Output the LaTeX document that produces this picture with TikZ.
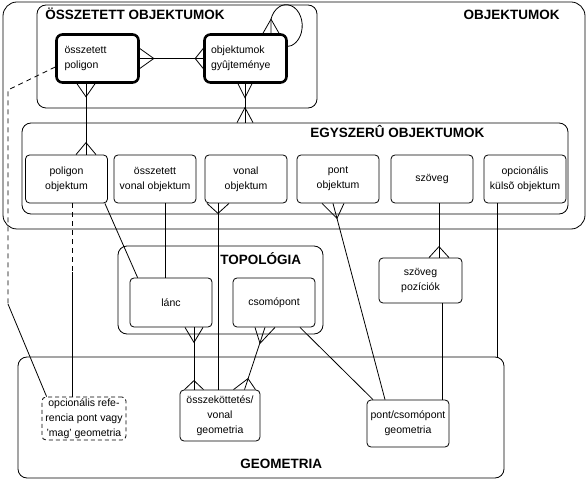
\documentclass[tikz,border=0pt]{standalone}
\usepackage{fontspec}
\setmainfont{Liberation Sans}
\usetikzlibrary{calc}

% crow's foot: point on the edge, apex offset, prong offset
\newcommand{\crowfoot}[3]{\draw ($(#1)+(#3)$) -- ($(#1)+(#2)$) -- ($(#1)-(#3)$);}

\tikzset{
  ent/.style={draw, rounded corners=4pt, minimum width=82pt, minimum height=48pt,
    inner sep=0pt, align=center, font=\fontsize{10.5}{15}\selectfont},
  comp/.style={ent, line width=2.6pt, rounded corners=6pt, text width=66pt, align=left},
  group/.style={draw, rounded corners=9pt, inner sep=0pt},
  title/.style={font=\fontsize{13.5}{16}\selectfont\bfseries, inner sep=0pt},
  optline/.style={dash pattern=on 5pt off 4pt},
}

\begin{document}
\begin{tikzpicture}[x=1pt, y=-1pt, line width=0.8pt]
    \useasboundingbox (0,0) rectangle (587,481);

    % groups
    \node[group, rounded corners=14pt, minimum width=582pt, minimum height=227pt] (objekt) at (294,115.5) {};
    \node[group, minimum width=280pt, minimum height=103pt] (osszgr) at (177,56.5) {};
    \node[group, minimum width=546pt, minimum height=91pt] (egygr) at (295,168.5) {};
    \node[group, minimum width=205pt, minimum height=88pt] (topo) at (220.5,290) {};
    \node[group, minimum width=486pt, minimum height=121pt] (geom) at (261,417.5) {};

    \node[title, anchor=base east] (objektT) at (560,20) {OBJEKTUMOK};
    \node[title, anchor=base west] (osszT) at (45,20) {ÖSSZETETT OBJEKTUMOK};
    \node[title, anchor=base west] (egyT) at (310,138) {EGYSZERÛ OBJEKTUMOK};
    \node[title, anchor=base west] (topoT) at (220,265) {TOPOLÓGIA};
    \node[title, anchor=base west] (geomT) at (240,468) {GEOMETRIA};

    % entities
    \node[comp] (cpol) at (97.5,58.5) {összetett\\poligon};
    \node[comp, text width=69pt] (gyujt) at (245.5,58.5) {objektumok\\gyûjteménye};
    \foreach \n/\x/\t in {polobj/66.5/{poligon\\objektum}, ovobj/155/{összetett\\vonal objektum},
        vobj/246/{vonal\\objektum}, pobj/338/{pont\\objektum}, szov/432/{szöveg},
        kulso/525/{opcionális\\külsõ objektum}}{
        \node[ent] (\n) at (\x,179) {\t};
    }
    \node[ent, minimum height=49pt] (lanc) at (171,302.5) {lánc};
    \node[ent, minimum height=49pt] (csomo) at (274,302.5) {csomópont};
    \node[ent, minimum width=83pt, minimum height=45pt] (szpoz) at (420.5,280.5) {szöveg\\pozíciók};
    \node[ent, dash pattern=on 4pt off 3pt, minimum width=84pt, minimum height=43pt] (opref) at (84,418.5)
        {opcionális refe-\\rencia pont vagy\\'mag' geometria};
    \node[ent, minimum width=80pt, minimum height=51pt] (osszek) at (220,415.5) {összeköttetés/\\vonal\\geometria};
    \node[ent, minimum height=47pt] (pcsg) at (408,423.5) {pont/csomópont\\geometria};

    % relations
    \draw (cpol.east) coordinate (k1) -- (gyujt.west) coordinate (k2);
    \crowfoot{k1}{14,0}{0,10}
    \crowfoot{k2}{-8,0}{0,10}

    \draw ([xshift=25.5pt]gyujt.north) coordinate (k3) -- ++(0,-14)
        arc[start angle=162, end angle=-90, x radius=16pt, y radius=21pt];
    \crowfoot{k3}{0,-14}{8,0}

    \draw ([xshift=-0.5pt]gyujt.south) coordinate (k4) -- ([xshift=-50pt]egygr.north) coordinate (k5);
    \crowfoot{k4}{0,14}{7,0}
    \crowfoot{k5}{0,-15}{8,0}

    \draw ([xshift=-11.5pt]cpol.south) coordinate (k6) -- ([xshift=19.5pt]polobj.north) coordinate (k7);
    \crowfoot{k6}{0,13}{9,0}
    \crowfoot{k7}{0,-12}{10,0}

    % optional reference
    \coordinate (d1) at (8,90);
    \coordinate (d2) at (8,304);
    \coordinate (d3) at (72,272);
    \draw[optline] ([yshift=-8.5pt]cpol.west) -- (d1) -- (d2);
    \draw (d2) -- ([xshift=5pt]opref.north west);
    \draw[optline] ([xshift=5.5pt]polobj.south) -- (d3);
    \draw (d3) -- ([xshift=-12pt]opref.north);

    \draw ([xshift=-3pt]polobj.south east) -- ([xshift=8pt]lanc.north west);
    \draw ([xshift=10pt]ovobj.south) -- ([xshift=-6pt]lanc.north);

    \draw ([xshift=-28pt]vobj.south) coordinate (k8) -- ([xshift=-2pt]osszek.north);
    \crowfoot{k8}{0,10}{11,0}

    \draw ([xshift=-5pt]pobj.south) coordinate (k9) -- ([xshift=-23pt]pcsg.north);
    \crowfoot{k9}{4,15}{11,0}

    \draw ([xshift=7pt]szov.south) -- ([xshift=18.5pt]szpoz.north) coordinate (k10);
    \crowfoot{k10}{0,-11}{10,0}

    \draw ([xshift=-28pt]kulso.south) -- ([xshift=236pt]geom.north);
    \draw ([xshift=21.5pt]szpoz.south) -- ([xshift=34pt]pcsg.north);

    \draw ([xshift=23pt]lanc.south) coordinate (k11) -- ([xshift=-26pt]osszek.north) coordinate (k12);
    \crowfoot{k11}{0,15}{9,0}
    \crowfoot{k12}{0,-9}{9.5,0}

    \draw ([xshift=-9pt]csomo.south) coordinate (k13) -- ([xshift=24.5pt]osszek.north) coordinate (k14);
    \crowfoot{k13}{-5,16}{10,0}
    \crowfoot{k14}{3.5,-11}{11,0}

    \draw ([xshift=26pt]csomo.south) -- ([xshift=-35pt]pcsg.north);
\end{tikzpicture}
\end{document}
